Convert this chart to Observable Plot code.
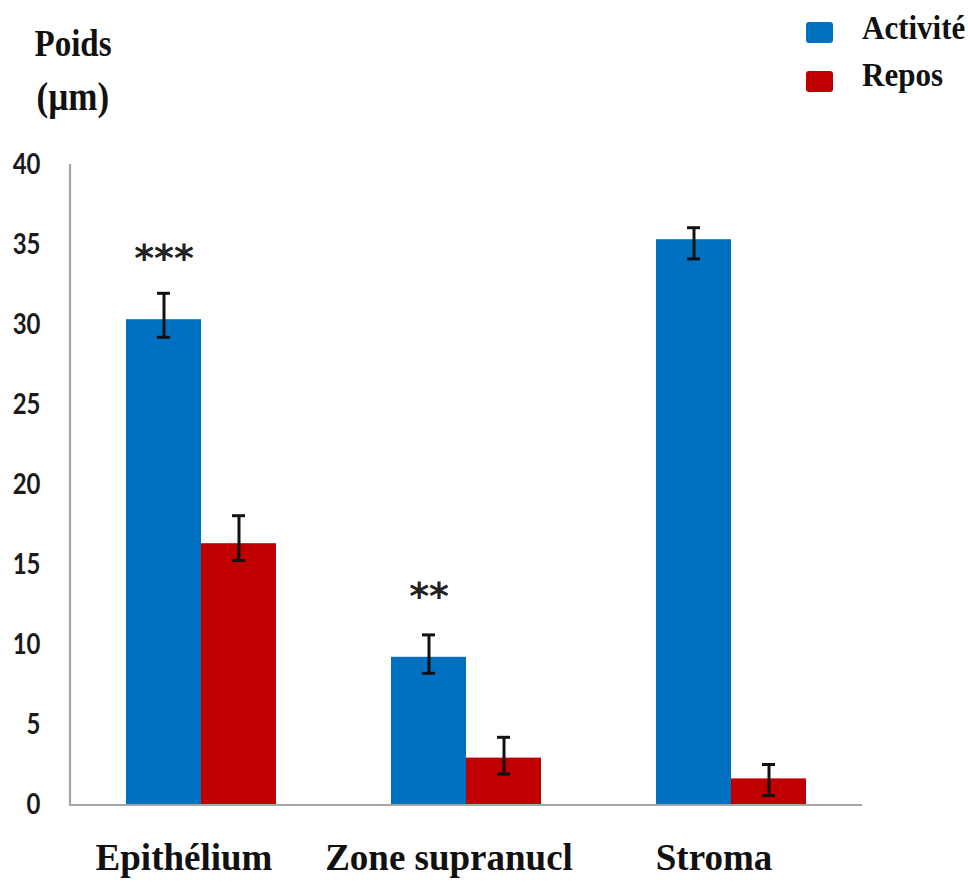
<!DOCTYPE html>
<html>
<head>
<meta charset="utf-8">
<script src="https://cdn.jsdelivr.net/npm/d3@7"></script>
<script src="https://cdn.jsdelivr.net/npm/@observablehq/plot@0.6"></script>
<style>
  html, body { margin: 0; padding: 0; background: #fff; }
  #wrap { position: relative; width: 968px; height: 885px; overflow: hidden; }
  .ttl { position: absolute; font-family: "Liberation Serif", serif; font-weight: bold; color: #111; white-space: nowrap; line-height: 1; transform-origin: 50% 89%; transform: scaleY(1.12); }
  .sw { position: absolute; width: 27px; height: 21px; border-radius: 3px; }
  #chart svg g[aria-label="y-axis tick label"] text { font-family: Lato, "Open Sans", sans-serif; font-weight: bold; font-size: 24px; }
  #chart svg g[aria-label="fx-axis tick label"] text { font-family: "Liberation Serif", serif; font-weight: bold; font-size: 37px; }
</style>
</head>
<body>
<div id="wrap">
  <div id="chart"></div>
  <div class="ttl" id="t1" style="font-size:33px; left:73px; top:58px;">Poids</div>
  <div class="ttl" id="t2" style="font-size:35px; left:73px; top:112px;">(µm)</div>
  <div class="sw" style="left:806px; top:22px; background:#0070C0;"></div>
  <div class="sw" style="left:806px; top:71px; background:#C00000;"></div>
  <div class="ttl" id="l1" style="font-size:31px; left:862px; top:41px;">Activité</div>
  <div class="ttl" id="l2" style="font-size:31px; left:862px; top:88px;">Repos</div>
</div>
<script>
// ---- data ----
const categories = ["Epithélium", "Zone supranucl", "Stroma"];
const series = ["Activité", "Repos"];
const colors = ["#0070C0", "#C00000"];
const yTicks = [0, 5, 10, 15, 20, 25, 30, 35, 40];

const activite = [30.3, 9.2, 35.3];
const activiteLow = [29.2, 8.2, 34.1];
const activiteHigh = [31.95, 10.6, 36.05];

const repos = [16.3, 2.9, 1.6];
const reposLow = [15.25, 1.9, 0.56];
const reposHigh = [18.05, 4.2, 2.5];

const stars = ["***", "**", ""];
const starLevel = [34.6, 13.5, null];

// ---- build tables ----
const rows = [];
categories.forEach((c, i) => {
  rows.push({cat: c, series: "Activité", value: activite[i], lo: activiteLow[i], hi: activiteHigh[i]});
  rows.push({cat: c, series: "Repos", value: repos[i], lo: reposLow[i], hi: reposHigh[i]});
});
const starRows = categories
  .map((c, i) => ({cat: c, series: "Activité", y: starLevel[i], text: stars[i]}))
  .filter(d => d.text);

const plot = Plot.plot({
  width: 968,
  height: 885,
  marginLeft: 69,
  marginRight: 106,
  marginTop: 164,
  marginBottom: 81,
  style: {background: "transparent", color: "#1a1a1a"},
  fx: {domain: categories, paddingInner: 0.43, paddingOuter: 0.211, label: null},
  x: {domain: series, padding: 0, axis: null},
  y: {domain: [0, 40], label: null},
  color: {domain: series, range: colors},
  marks: [
    Plot.axisY({ticks: yTicks, tickSize: 0, tickPadding: 85, label: null, tickFormat: d => String(d),
      fontSize: 24, fontFamily: "Lato", fontWeight: "bold", fill: "#1a1a1a"}),
    Plot.axisFx({anchor: "bottom", tickSize: 0, tickPadding: 39, label: null, dx: -17,
      fontSize: 37, fontFamily: "Liberation Serif", fontWeight: "bold", fill: "#111"}),
    Plot.barY(rows, {fx: "cat", x: "series", y: "value", fill: "series"}),
    Plot.ruleX(rows, {fx: "cat", x: "series", y1: "lo", y2: "hi", stroke: "#111", strokeWidth: 3}),
    Plot.tickY(rows, {fx: "cat", x: "series", y: "lo", stroke: "#111", strokeWidth: 3, insetLeft: 31, insetRight: 31}),
    Plot.tickY(rows, {fx: "cat", x: "series", y: "hi", stroke: "#111", strokeWidth: 3, insetLeft: 31, insetRight: 31}),
    Plot.text(starRows, {fx: "cat", x: "series", y: "y", text: "text", dy: 8,
      fontSize: 38, fontFamily: "DejaVu Sans", fontWeight: "bold", fill: "#222"})
  ]
});

// axis line and baseline drawn from the plot's own scales, underneath the bars
const ys = plot.scale("y");
const fxs = plot.scale("fx");
const svg = d3.select(plot);
const x0 = fxs.range[0], x1 = fxs.range[1];
const yb = ys.apply(0), yt = ys.apply(40);
svg.insert("line", "g")
  .attr("x1", x0 + 1).attr("x2", x1).attr("y1", yb + 1).attr("y2", yb + 1)
  .attr("stroke", "#a6a6a6").attr("stroke-width", 2.2);
svg.insert("line", "g")
  .attr("x1", x0 + 1).attr("x2", x0 + 1).attr("y1", yt).attr("y2", yb + 2)
  .attr("stroke", "#a6a6a6").attr("stroke-width", 2.2);

// slightly taller tick digits, as in the reference
svg.selectAll('g[aria-label="y-axis tick label"] text').each(function() {
  const t = d3.select(this);
  const tr = t.attr("transform");
  if (tr) {
    t.attr("transform", tr + " scale(1,1.18)");
  } else {
    const x = +t.attr("x") || 0, y = +t.attr("y") || 0;
    t.attr("x", null).attr("y", null).attr("transform", `translate(${x},${y}) scale(1,1.18)`);
  }
});

document.getElementById("chart").appendChild(plot);

// position HTML labels: left = center for title, top = baseline
function placeBaseline(id, centerX) {
  const el = document.getElementById(id);
  const fs = parseFloat(el.style.fontSize);
  const base = parseFloat(el.style.top);
  el.style.top = (base - fs * 0.891) + "px"; // Liberation Serif ascent
  if (centerX) el.style.left = (parseFloat(el.style.left) - el.offsetWidth / 2) + "px";
}
placeBaseline("t1", true);
placeBaseline("t2", true);
placeBaseline("l1", false);
placeBaseline("l2", false);
</script>
</body>
</html>
